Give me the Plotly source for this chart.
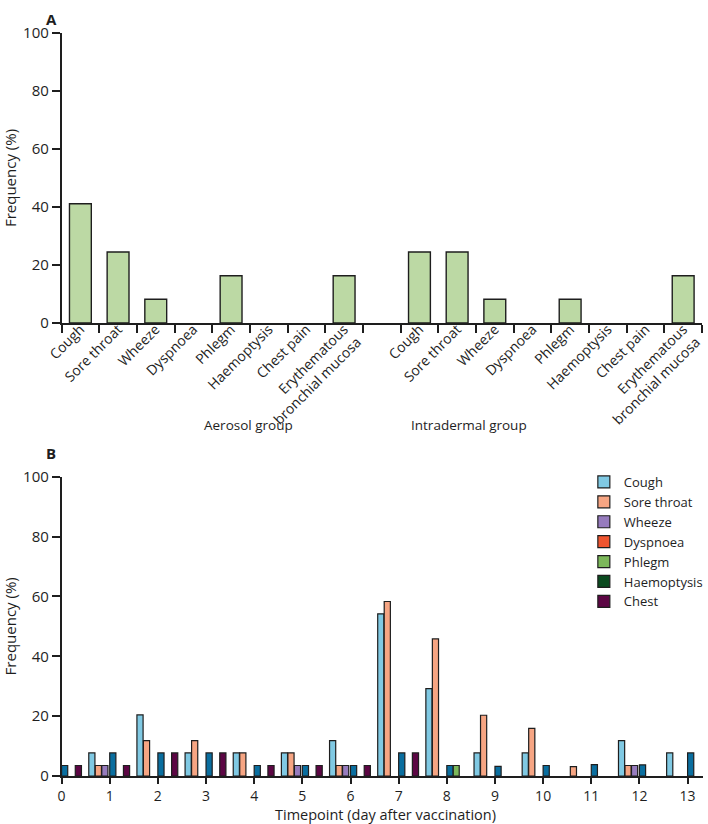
import plotly.graph_objects as go

# Panel A: frequency (%) of respiratory adverse events by group
symptoms = ["Cough", "Sore throat", "Wheeze", "Dyspnoea", "Phlegm", "Haemoptysis",
            "Chest pain", "Erythematous<br>bronchial mucosa"]
aerosol_pct = [41.1, 24.5, 8.2, 0, 16.3, 0, 0, 16.3]
intradermal_pct = [24.5, 24.5, 8.2, 0, 8.2, 0, 0, 16.3]

# Panel B: frequency (%) by timepoint (day after vaccination)
days = list(range(14))
cough = [0, 7.7, 20.4, 7.7, 7.7, 7.7, 11.8, 54.2, 29.2, 7.7, 7.7, 0, 11.8, 7.7]
sore_throat = [0, 3.5, 11.8, 11.8, 7.7, 7.7, 3.5, 58.3, 45.8, 20.3, 15.9, 3.1, 3.5, 0]
wheeze = [0, 3.5, 0, 0, 0, 3.5, 3.5, 0, 0, 0, 0, 0, 3.5, 0]
dyspnoea = [0] * 14
phlegm = [0, 0, 0, 0, 0, 0, 0, 0, 3.5, 0, 0, 0, 0, 0]
haemoptysis = [0] * 14
chest = [3.5, 3.5, 7.7, 7.7, 3.5, 3.5, 3.5, 7.7, 0, 0, 0, 0, 0, 0]
unlabelled = [3.5, 7.7, 7.7, 7.7, 3.5, 3.5, 3.5, 7.7, 3.5, 3.2, 3.5, 3.8, 3.7, 7.7]

FONT = "Open Sans"
INK = "#1e1e1e"
W, H = 708, 824


def px_x(p):
    # pixel from the left -> paper fraction
    return p / W


def px_y(p):
    return 1 - p / H


def nz(vals):
    # zero frequencies are not drawn at all
    return [v if v else None for v in vals]


fig = go.Figure()

# ---- panel A
aer_keys = ["Aerosol: " + s for s in symptoms]
int_keys = ["Intradermal: " + s for s in symptoms]
cat_order = aer_keys + ["gap"] + int_keys
tick_text = symptoms + [""] + symptoms

for keys, vals in [(aer_keys, aerosol_pct), (int_keys, intradermal_pct)]:
    fig.add_bar(x=keys, y=nz(vals), width=0.58, xaxis="x", yaxis="y",
                marker=dict(color="#bcd9a4", line=dict(color=INK, width=1.4)),
                showlegend=False, hoverinfo="x+y")

# ---- panel B
series = [
    ("Cough", cough, "#80c9e3", -0.435),
    ("Sore throat", sore_throat, "#f6a583", -0.30),
    ("Wheeze", wheeze, "#967bbd", -0.165),
    ("Dyspnoea", dyspnoea, "#ef5530", 0.0),
    ("Phlegm", phlegm, "#7cb85a", 0.13),
    ("Haemoptysis", haemoptysis, "#0b4a1f", 0.13),
    ("Chest", chest, "#5c0644", 0.285),
]
for name, vals, color, off in series:
    offs = [off] * len(days)
    if name == "Sore throat":
        offs[11] = -0.435  # drawn in the first slot on day 11
    fig.add_bar(x=days, y=nz(vals), width=0.128, offset=offs, name=name,
                xaxis="x2", yaxis="y2",
                marker=dict(color=color, line=dict(color=INK, width=1.2)))

fig.add_bar(x=days, y=nz(unlabelled), width=0.128, offset=0.0, name="",
            xaxis="x2", yaxis="y2", showlegend=False,
            marker=dict(color="#0a6e9f", line=dict(color=INK, width=1.2)))

axis_common = dict(showline=True, linecolor=INK, linewidth=1.5, ticks="outside",
                   ticklen=8, tickwidth=1.5, tickcolor=INK, showgrid=False,
                   zeroline=False, automargin=False,
                   tickfont=dict(size=15, color=INK))

fig.update_layout(
    width=W, height=H,
    margin=dict(l=0, r=0, t=0, b=0),
    paper_bgcolor="white", plot_bgcolor="white",
    font=dict(family=FONT, color=INK),
    barmode="overlay",
    xaxis=dict(axis_common, domain=[px_x(62), px_x(707)], anchor="y",
               type="category", categoryorder="array", categoryarray=cat_order,
               tickmode="array", tickvals=cat_order, ticktext=tick_text,
               tickson="boundaries", tickangle=-45, ticklabelstandoff=-9,
               tickfont=dict(size=14, color=INK), range=[-0.5, 16.5]),
    yaxis=dict(axis_common, domain=[px_y(323), px_y(33)], anchor="x",
               range=[0, 100], tickvals=[0, 20, 40, 60, 80, 100],
               title=dict(text="Frequency (%)", font=dict(size=15), standoff=3)),
    xaxis2=dict(axis_common, domain=[px_x(62), px_x(708)], anchor="y2",
                range=[0, 13.32], tickvals=days, ticklen=6,
                tickfont=dict(size=14, color=INK)),
    yaxis2=dict(axis_common, domain=[px_y(776), px_y(476.7)], anchor="x2",
                range=[0, 100], tickvals=[0, 20, 40, 60, 80, 100],
                title=dict(text="Frequency (%)", font=dict(size=15), standoff=3)),
    legend=dict(x=px_x(588), y=px_y(467), xanchor="left", yanchor="top",
                font=dict(size=13, color=INK), tracegroupgap=0,
                bgcolor="rgba(0,0,0,0)", itemwidth=30),
    annotations=[
        dict(text="<b>A</b>", x=px_x(44), y=px_y(7), xref="paper", yref="paper",
             showarrow=False, font=dict(size=15)),
        dict(text="<b>B</b>", x=px_x(44), y=px_y(453), xref="paper", yref="paper",
             showarrow=False, font=dict(size=15)),
        dict(text="Aerosol group", x=px_x(203), y=px_y(425), xref="paper",
             yref="paper", showarrow=False, font=dict(size=13.5)),
        dict(text="Intradermal group", x=px_x(533), y=px_y(425), xref="paper",
             yref="paper", showarrow=False, font=dict(size=13.5)),
        dict(text="Timepoint (day after vaccination)", x=px_x(388), y=px_y(814),
             xref="paper", yref="paper", xanchor="center", yanchor="middle",
             showarrow=False, borderpad=0, font=dict(size=14.5)),
    ],
)

# drop the page's default body margin so the 708x824 figure fills the window
fig.write_html("out.html", config={"displayModeBar": False},
               post_script="document.body.style.margin='0';")
